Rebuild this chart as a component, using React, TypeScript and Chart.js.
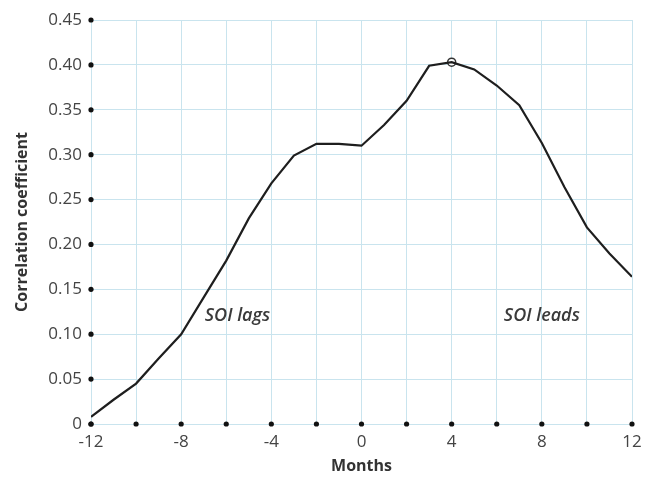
import React, { useEffect, useRef } from "react";
import { Chart, registerables } from "chart.js";

Chart.register(...registerables);

const months = [-12, -11, -10, -9, -8, -7, -6, -5, -4, -3, -2, -1, 0, 1, 2, 3, 4, 5, 6, 7, 8, 9, 10, 11, 12];
const correlation = [0.008, 0.027, 0.045, 0.073, 0.100, 0.141, 0.182, 0.229, 0.268, 0.299, 0.312, 0.312, 0.310, 0.333, 0.360, 0.399, 0.403, 0.395, 0.377, 0.355, 0.313, 0.264, 0.219, 0.190, 0.164];
const peakMonth = 4;
const peakValue = 0.403;
const noteLabels = ["SOI lags", "SOI leads"];
const noteMonths = [-5.5, 8];
const noteValues = [0.12, 0.12];
const xTickStep = 2;
const xLabelEvery = 4;
const yMin = 0;
const yMax = 0.45;
const yStep = 0.05;

const FONT = "'Open Sans', sans-serif";

const decorPlugin = {
  id: "decor",
  afterDraw(chart: any) {
    const ctx = chart.ctx;
    const xs = chart.scales.x;
    const ys = chart.scales.y;
    ctx.save();
    ctx.fillStyle = "#111";
    for (let v = yMin; v <= yMax + 1e-9; v += yStep) {
      ctx.beginPath();
      ctx.arc(xs.left, ys.getPixelForValue(v), 2.6, 0, Math.PI * 2);
      ctx.fill();
    }
    for (let m = months[0]; m <= months[months.length - 1]; m += xTickStep) {
      ctx.beginPath();
      ctx.arc(xs.getPixelForValue(m), ys.bottom, 2.6, 0, Math.PI * 2);
      ctx.fill();
    }
    ctx.fillStyle = "#3a3a3a";
    ctx.font = `italic 600 18px ${FONT}`;
    ctx.textAlign = "center";
    ctx.textBaseline = "middle";
    noteLabels.forEach((t, i) => {
      ctx.fillText(t, xs.getPixelForValue(noteMonths[i]), ys.getPixelForValue(noteValues[i]));
    });
    ctx.restore();
  },
};

export default function App() {
  const ref = useRef<HTMLCanvasElement>(null);
  useEffect(() => {
    document.body.style.margin = "0";
    const chart = new Chart(ref.current!, {
      type: "line",
      data: {
        datasets: [
          {
            data: months.map((m, i) => ({ x: m, y: correlation[i] })),
            borderColor: "#1e1e1e",
            borderWidth: 2.2,
            pointRadius: 0,
            tension: 0,
          },
          {
            data: [{ x: peakMonth, y: peakValue }],
            borderColor: "#333",
            backgroundColor: "#fff",
            pointRadius: 4,
            pointBorderWidth: 1.5,
            showLine: false,
          },
        ],
      },
      plugins: [decorPlugin],
      options: {
        animation: false,
        responsive: false,
        events: [],
        layout: { padding: { top: 20, right: 28, left: 0, bottom: 0 } },
        plugins: { legend: { display: false }, tooltip: { enabled: false } },
        scales: {
          x: {
            type: "linear",
            min: months[0],
            max: months[months.length - 1],
            border: { display: false },
            grid: { color: "#c9e4ee", lineWidth: 1, drawTicks: false },
            ticks: {
              stepSize: xTickStep,
              padding: 8,
              color: "#444",
              font: { family: FONT, size: 17 },
              callback: (v: any) => (Number(v) % xLabelEvery === 0 ? String(v) : ""),
              maxRotation: 0,
            },
            title: {
              display: true,
              text: "Months",
              color: "#333",
              font: { family: FONT, size: 16, weight: "bold" },
              padding: { top: 0 },
            },
            afterFit: (s: any) => {
              s.height = 56;
            },
          },
          y: {
            min: yMin,
            max: yMax,
            border: { display: false },
            grid: { color: "#c9e4ee", lineWidth: 1, drawTicks: false },
            ticks: {
              stepSize: yStep,
              padding: 9,
              color: "#444",
              font: { family: FONT, size: 17 },
              callback: (v: any) => (Number(v) === 0 ? "0" : Number(v).toFixed(2)),
            },
            title: {
              display: true,
              text: "Correlation coefficient",
              color: "#333",
              font: { family: FONT, size: 16, weight: "bold" },
              padding: { top: 13, bottom: 0 },
            },
            afterFit: (s: any) => {
              s.width = 91;
            },
          },
        },
      },
    });
    return () => chart.destroy();
  }, []);
  return <canvas ref={ref} width={660} height={480} style={{ display: "block" }} />;
}
